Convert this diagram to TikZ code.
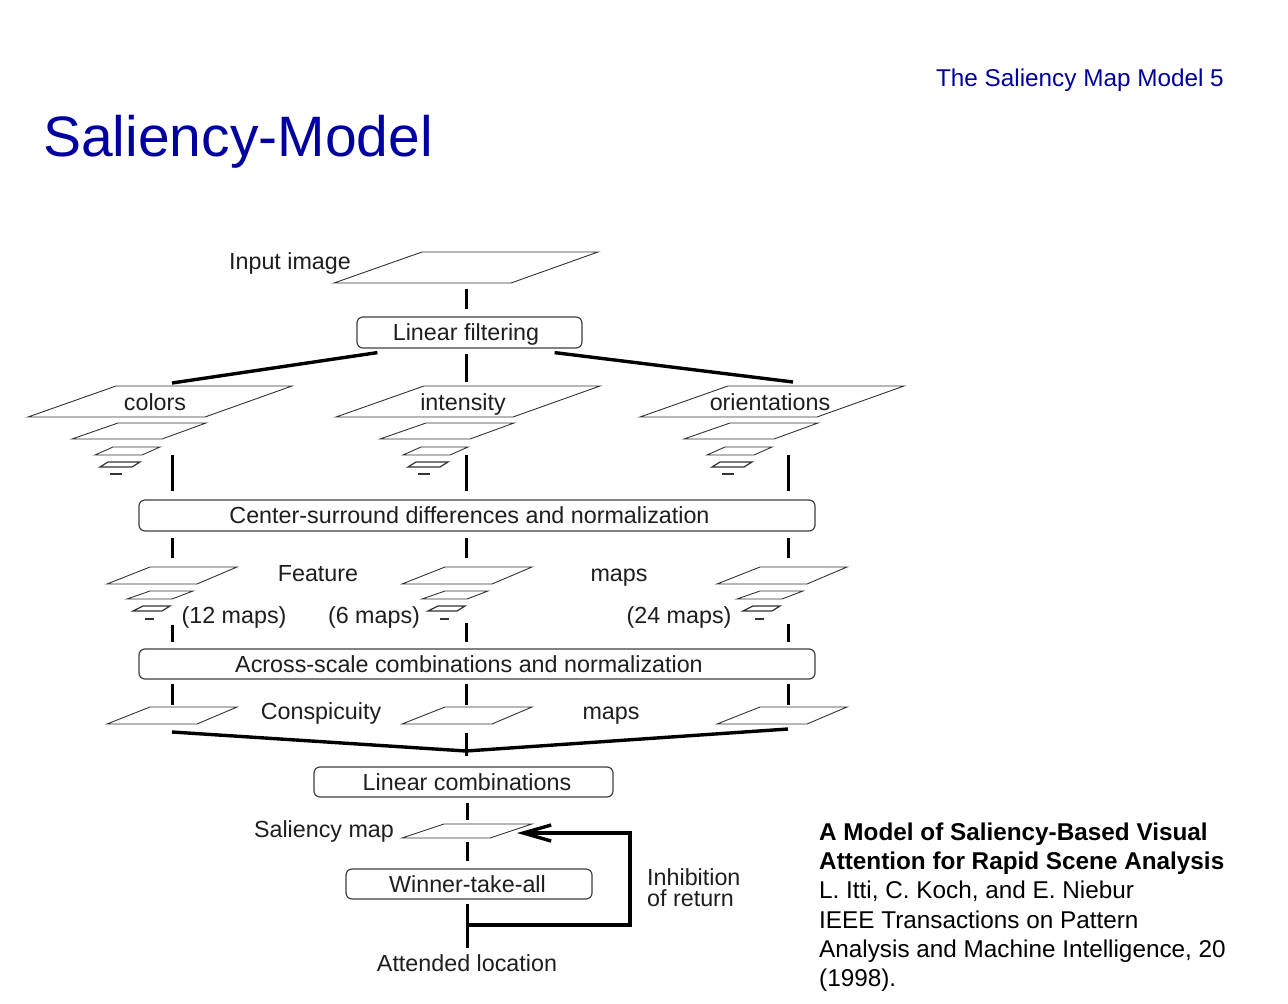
\documentclass[tikz,border=0pt]{standalone}
\usepackage{fontspec}
\setmainfont{Liberation Sans}
\usetikzlibrary{arrows.meta}
\definecolor{slideblue}{RGB}{0,0,160}
\definecolor{ink}{RGB}{30,30,30}

\tikzset{
  % one image plane of a pyramid, drawn from its lower left corner
  pics/bigsheet/.style={code={
    \draw[plane] (0,0) -- (177,0) -- (264,-31) -- (88,-31) -- cycle;
  }},
  % Gaussian pyramid of input channels
  pics/bigstack/.style={code={
    \draw[plane] (0,0) -- (177,0) -- (264,-31) -- (88,-31) -- cycle;
    \draw[plane] (44,22) -- (134,22) -- (178,6) -- (90,6) -- cycle;
    \draw[plane] (67,38) -- (114,38) -- (132,30) -- (85,30) -- cycle;
    \draw[plane, line width=1.2pt] (72,50) -- (104,50) -- (112,45) -- (80,45) -- cycle;
    \draw[plane, line width=1.8pt] (82,57) -- (94,57);
  }},
  % stack of feature maps
  pics/smallstack/.style={code={
    \draw[plane] (0,0) -- (90,0) -- (130,-17) -- (43,-17) -- cycle;
    \draw[plane] (20,15) -- (65,15) -- (86,7) -- (43,7) -- cycle;
    \draw[plane, line width=1.2pt] (26,27) -- (55,27) -- (63,22) -- (36,22) -- cycle;
    \draw[plane, line width=1.8pt] (38,35) -- (47,35);
  }},
  % a single map
  pics/sheet/.style={code={
    \draw[plane] (0,0) -- (90,0) -- (130,-17) -- (43,-17) -- cycle;
  }},
}

\begin{document}
\begin{tikzpicture}[x=1pt, y=-1pt,
  plane/.style={draw=black!80, line width=0.9pt, line join=miter},
  lbl/.style={inner sep=0pt, text height=16.7pt, text depth=0pt,
    font=\fontsize{23.3}{26}\selectfont, text=ink},
  stagebox/.style={lbl, draw=black!75, line width=1.2pt, rounded corners=6pt,
    minimum height=30pt},
  link/.style={line width=3pt, draw=black},
  feed/.style={line width=3.4pt, draw=black, line join=miter},
]
\useasboundingbox[fill=white] (0,0) rectangle (1288,1004);

% slide heading
\node[anchor=base east, inner sep=0pt, text=slideblue,
  font=\fontsize{24.3}{28}\selectfont] (header) at (1224,86) {The Saliency Map Model 5};
\node[anchor=base west, inner sep=0pt, text=slideblue,
  font=\fontsize{57}{64}\selectfont] (title) at (43,156) {Saliency-Model};

% planes
\pic at (334,283) {bigsheet};
\pic at (28,417) {bigstack};
\pic at (336,417) {bigstack};
\pic at (640,417) {bigstack};
\pic at (107,584) {smallstack};
\pic at (402,584) {smallstack};
\pic at (717,584) {smallstack};
\pic at (107,724) {sheet};
\pic at (402,724) {sheet};
\pic at (717,724) {sheet};
\draw[plane] (402,838) -- (490,838) -- (532,824) -- (444,824) -- cycle;

% processing stages (the \hspace* pads set the text slightly off the box centre)
\node[stagebox, minimum width=225pt, minimum height=31pt] (lf) at (469.5,332.5)
  {Linear filtering\hspace*{7pt}};
\node[stagebox, minimum width=676pt, minimum height=31pt] (cs) at (477,515.5)
  {Center-surround differences and normalization\hspace*{15pt}};
\node[stagebox, minimum width=676pt] (as) at (477,664)
  {Across-scale combinations and normalization\hspace*{16pt}};
\node[stagebox, minimum width=299pt] (lc) at (463.5,782)
  {\hspace*{7pt}Linear combinations};
\node[stagebox, minimum width=246pt] (wta) at (469,884)
  {Winner-take-all\hspace*{3pt}};

% labels
\node[lbl] (l-input) at (290,261) {Input image};
\node[lbl] (l-col) at (155,402) {colors};
\node[lbl] (l-int) at (463,402) {intensity};
\node[lbl] (l-ori) at (770,402) {orientations};
\node[lbl] (l-feat) at (318,573) {Feature};
\node[lbl] (l-fmaps) at (619,573) {maps};
\node[lbl] (l-n12) at (234,615) {(12 maps)};
\node[lbl] (l-n6) at (374,615) {(6 maps)};
\node[lbl] (l-n24) at (679,615) {(24 maps)};
\node[lbl] (l-consp) at (321,711) {Conspicuity};
\node[lbl] (l-cmaps) at (611,711) {maps};
\node[lbl] (l-sal) at (324,829) {Saliency map};
\node[lbl, anchor=west] (l-inh) at (647,877) {Inhibition};
\node[lbl, anchor=west] (l-ret) at (647,898) {of return};
\node[lbl] (l-att) at (467,963.5) {Attended location};

% connector end points on the planes
\coordinate (in-img) at (466,283);
\coordinate (col) at (172,386);
\coordinate (int) at (466,386);
\coordinate (ori) at (793,386);
\coordinate (c1) at (172,455);
\coordinate (i1) at (466,455);
\coordinate (o1) at (788,455);
\coordinate (c2) at (172,567);
\coordinate (i2) at (466,567);
\coordinate (o2) at (788,567);
\coordinate (c3) at (172,625);
\coordinate (i3) at (466,623);
\coordinate (o3) at (788,624);
\coordinate (c4) at (172,709);
\coordinate (i4) at (466,709);
\coordinate (o4) at (788,709);
\coordinate (c5) at (172,732);
\coordinate (o5) at (788,729);
\coordinate (i5) at (466,733);
\coordinate (merge) at (466,751);
\coordinate (sal-top) at (467,824);
\coordinate (sal-bot) at (467,838);
\coordinate (tap) at (467,925);
\coordinate (loop) at (630,833);
\coordinate (sal-tip) at (517,833);

% input to filtering
\draw[link, shorten <=6pt, shorten >=7pt] (in-img) -- (in-img |- lf.north);
\draw[link, shorten <=5pt, shorten >=4pt] (int |- lf.south) -- (int);
\draw[feed] ([xshift=21pt,yshift=-4pt]lf.south west) -- ([yshift=3pt]col);
\draw[feed] ([xshift=-28pt,yshift=-4pt]lf.south east) -- ([yshift=4pt]ori);

% channels to center-surround
\foreach \p in {c1,i1,o1}
  \draw[link, shorten >=8pt] (\p) -- (\p |- cs.north);
\foreach \p in {c2,i2,o2}
  \draw[link, shorten <=6pt, shorten >=9pt] (\p |- cs.south) -- (\p);
% feature maps to across-scale
\foreach \p in {c3,i3,o3}
  \draw[link, shorten >=6pt] (\p) -- (\p |- as.north);
\foreach \p in {c4,i4,o4}
  \draw[link, shorten <=4pt, shorten >=4pt] (\p |- as.south) -- (\p);

% conspicuity maps merge
\draw[feed] (c5) -- (merge) -- (o5);
\draw[link, shorten >=10pt] (i5) -- (i5 |- lc.north);

% saliency map and winner-take-all
\draw[link, shorten <=5pt, shorten >=4pt] (sal-top |- lc.south) -- (sal-top);
\draw[link, shorten <=4pt, shorten >=7pt] (sal-bot) -- (sal-bot |- wta.north);
\draw[link, shorten <=4pt, shorten >=6.5pt] (sal-bot |- wta.south) -- (l-att.north);
\draw[feed, -{Straight Barb[length=28pt, width=16pt]}] (tap) -| (loop) -- (sal-tip);

% reference
\node[anchor=north west, align=left, inner sep=0pt,
  font=\fontsize{24.3}{29.3}\selectfont] (ref) at (819,822.5)
  {\textbf{A Model of Saliency-Based Visual}\\
   \textbf{Attention for Rapid Scene Analysis}\\
   L. Itti, C. Koch, and E. Niebur\\
   IEEE Transactions on Pattern\\
   Analysis and Machine Intelligence, 20\\
   (1998).};
\end{tikzpicture}
\end{document}
